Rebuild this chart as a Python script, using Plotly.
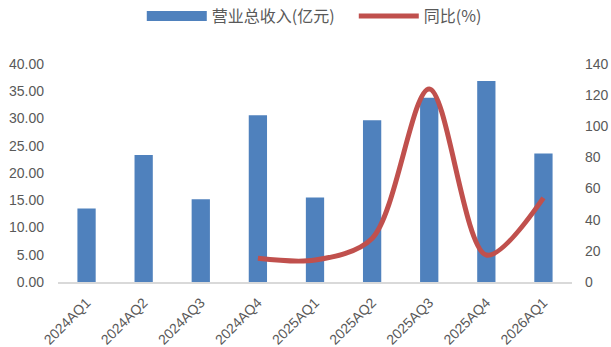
import plotly.graph_objects as go

categories = ["2024AQ1", "2024AQ2", "2024AQ3", "2024AQ4", "2025AQ1", "2025AQ2", "2025AQ3", "2025AQ4", "2026AQ1"]
revenue = [13.5, 23.3, 15.2, 30.6, 15.5, 29.7, 33.8, 36.9, 23.6]
yoy = [None, None, None, 15.2, 14.1, 28.0, 124.0, 17.3, 54.0]
left_ticks = [0, 5, 10, 15, 20, 25, 30, 35, 40]
right_ticks = [0, 20, 40, 60, 80, 100, 120, 140]

font_family = "Liberation Sans, Noto Sans CJK SC, sans-serif"
grey = "#595959"
bar_color = "#4F81BD"
line_color = "#C0504D"

fig = go.Figure()
fig.add_trace(go.Bar(
    x=categories, y=revenue, name="营业总收入(亿元)",
    marker=dict(color=bar_color, line=dict(width=0)),
    width=0.32, yaxis="y", showlegend=False))
# legend-only entry so the bar key is drawn as a wide bar like the reference
fig.add_trace(go.Scatter(
    x=[None], y=[None], name="营业总收入(亿元)", mode="lines",
    line=dict(color=bar_color, width=10), yaxis="y", legendrank=1))
fig.add_trace(go.Scatter(
    x=categories, y=yoy, name="同比(%)", mode="lines",
    line=dict(color=line_color, width=5, shape="spline", smoothing=0.9),
    connectgaps=False, yaxis="y2", legendrank=2))

fig.update_layout(
    width=611, height=347,
    margin=dict(l=58, r=39, t=64, b=65, autoexpand=False),
    paper_bgcolor="white", plot_bgcolor="white",
    font=dict(family=font_family, size=13, color=grey),
    showlegend=True,
    legend=dict(orientation="h", x=0.163, xanchor="left", y=1.22, yanchor="middle",
                font=dict(size=16, color=grey, family="Noto Sans CJK SC, sans-serif"),
                itemwidth=60, entrywidth=137, entrywidthmode="pixels", traceorder="normal"),
    xaxis=dict(type="category", tickangle=-45, showgrid=False, showline=True, automargin=False,
               linecolor="#D9D9D9", linewidth=2, ticks="", ticklabelstandoff=5,
               tickfont=dict(size=14, color=grey)),
    yaxis=dict(range=[0, 40], tickvals=left_ticks, automargin=False,
               ticktext=[f"{v:.2f}" for v in left_ticks], ticklabelstandoff=13,
               showgrid=False, zeroline=False, showline=False, ticks="",
               tickfont=dict(size=14, color=grey)),
    yaxis2=dict(range=[0, 140], tickvals=right_ticks, overlaying="y", side="right", automargin=False,
                showgrid=False, zeroline=False, showline=False, ticks="", ticklabelstandoff=12,
                tickfont=dict(size=14, color=grey)),
)

fig.write_html("out.html")
